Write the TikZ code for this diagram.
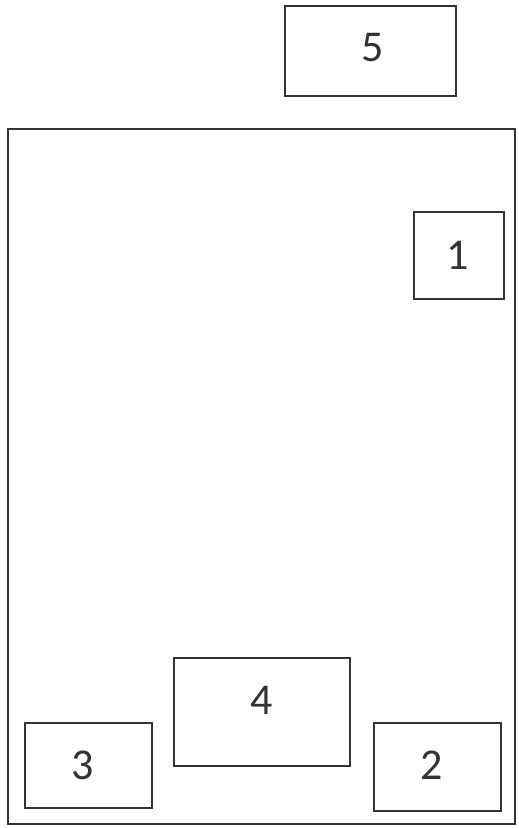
\documentclass[tikz,border=0pt]{standalone}
\usepackage{fontspec}
\setmainfont{Carlito}
\begin{document}
\begin{tikzpicture}[x=1pt,y=-1pt,
  boxline/.style={draw=black!80,line width=1.2pt},
  digit/.style={inner sep=0pt,text=black!80,font=\fontsize{44}{50}\selectfont}]
\useasboundingbox (0,0) rectangle (519,828);
\fill[white] (0,0) rectangle (519,828);
% outer frame
\draw[boxline] (8,129) rectangle (515,824);
% boxes
\draw[boxline] (285,6) rectangle (456,96);
\draw[boxline] (414,212) rectangle (504,299);
\draw[boxline] (174,658) rectangle (350,766);
\draw[boxline] (25,723) rectangle (152,808);
\draw[boxline] (374,723) rectangle (501,811);
% labels
\node[digit] (n5) at (373,48) {5};
\node[digit] (n1) at (458,255) {1};
\node[digit] (n4) at (262,700) {4};
\node[digit] (n3) at (83,765) {3};
\node[digit] (n2) at (432,765) {2};
\end{tikzpicture}
\end{document}
